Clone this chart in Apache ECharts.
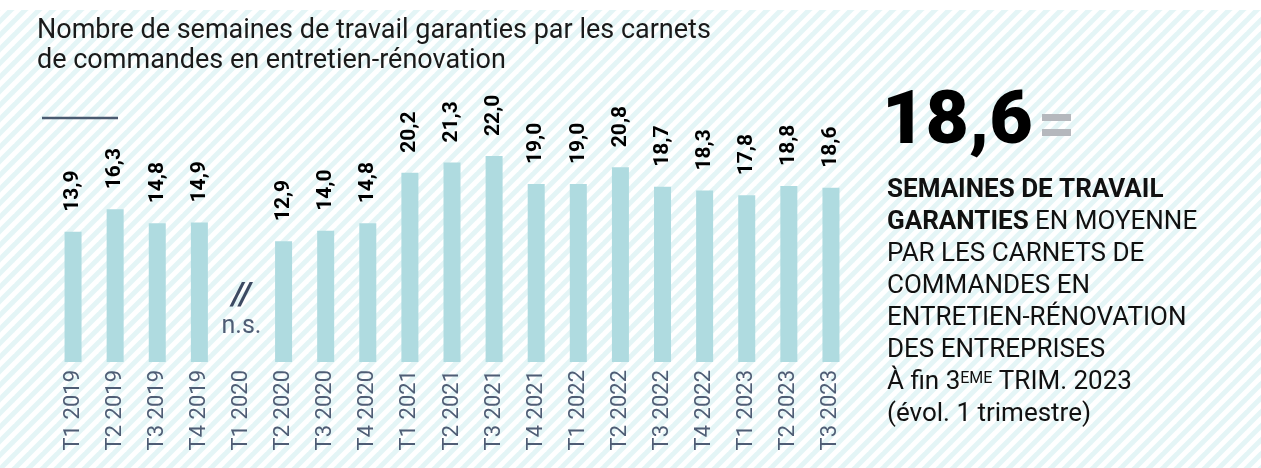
<!DOCTYPE html>
<html>
<head>
<meta charset="utf-8">
<script src="https://cdn.jsdelivr.net/npm/echarts@6/dist/echarts.min.js"></script>
<style>
  html, body { margin: 0; padding: 0; background: #fff; }
  #chart { width: 1261px; height: 468px; }
</style>
</head>
<body>
<div id="chart"></div>
<script>
var quarters = ['T1 2019', 'T2 2019', 'T3 2019', 'T4 2019', 'T1 2020', 'T2 2020', 'T3 2020', 'T4 2020',
  'T1 2021', 'T2 2021', 'T3 2021', 'T4 2021', 'T1 2022', 'T2 2022', 'T3 2022', 'T4 2022',
  'T1 2023', 'T2 2023', 'T3 2023'];
// T1 2020 : non significatif
var weeks = [13.9, 16.3, 14.8, 14.9, null, 12.9, 14.0, 14.8, 20.2, 21.3, 22.0, 19.0, 19.0, 20.8, 18.7, 18.3, 17.8, 18.8, 18.6];
var missingQuarter = 'T1 2020';
var missingText = 'n.s.';
var titleLines = ['Nombre de semaines de travail garanties par les carnets', 'de commandes en entretien-rénovation'];
var bigValue = '18,6';
var sideLines = [
  '{b|SEMAINES DE TRAVAIL}',
  '{b|GARANTIES}{n| EN MOYENNE}',
  '{n|PAR LES CARNETS DE}',
  '{n|COMMANDES EN}',
  '{n|ENTRETIEN-RÉNOVATION}',
  '{n|DES ENTREPRISES}',
  '{n|À fin 3}{s|EME}{n| TRIM. 2023}',
  '{n|(évol. 1 trimestre)}'
];

function fr(v) {
  return v == null ? '' : v.toFixed(1).replace('.', ',');
}

// fond hachuré
function stripes() {
  var p = 14;
  var c = document.createElement('canvas');
  c.width = p; c.height = p;
  var ctx = c.getContext('2d');
  ctx.fillStyle = '#e4f5f6';
  ctx.fillRect(0, 0, p, p);
  ctx.strokeStyle = '#ffffff';
  ctx.lineWidth = p / Math.SQRT2 / 2;
  for (var k = 0; k <= 2; k++) {
    ctx.beginPath();
    ctx.moveTo(k * p - 2 * p, 2 * p);
    ctx.lineTo(k * p + 2 * p, -2 * p);
    ctx.stroke();
  }
  return c;
}

var font = 'Roboto';
var chart = echarts.init(document.getElementById('chart'));

var option = {
  animation: false,
  grid: { left: 52, right: 409, top: 81, bottom: 106 },
  xAxis: {
    type: 'category',
    data: quarters,
    axisLine: { show: false },
    axisTick: { show: false },
    axisLabel: {
      rotate: 90,
      margin: 8,
      color: '#4f5d75',
      fontFamily: font,
      fontSize: 22,
      interval: 0
    }
  },
  yAxis: {
    type: 'value',
    min: 0,
    max: 30,
    show: false
  },
  series: [{
    type: 'bar',
    data: weeks,
    barWidth: 17,
    itemStyle: { color: '#afdbe0' },
    label: {
      show: true,
      position: 'top',
      rotate: 90,
      align: 'left',
      verticalAlign: 'middle',
      distance: 20,
      color: '#000',
      fontFamily: font,
      fontWeight: 'bold',
      fontSize: 21,
      formatter: function (p) { return fr(p.value); }
    }
  }]
};
chart.setOption(option);

var nsX = chart.convertToPixel({ xAxisIndex: 0 }, missingQuarter);

chart.setOption({
  graphic: [
    {
      type: 'rect', z: -100, silent: true,
      shape: { x: 0, y: 10, width: 1261, height: 458 },
      style: { fill: { image: stripes(), repeat: 'repeat' } }
    },
    {
      type: 'text', left: 37, top: 16,
      style: { text: titleLines.join('\n'), fontFamily: font, fontSize: 27, fill: '#1a1a1a', lineHeight: 30 }
    },
    {
      type: 'line',
      shape: { x1: 42, y1: 118, x2: 118, y2: 118 },
      style: { stroke: '#4a5a70', lineWidth: 2.5 }
    },
    {
      type: 'text', x: nsX, y: 296,
      style: { text: '//', fontFamily: font, fontStyle: 'italic', fontWeight: 'bold', fontSize: 32, fill: '#3c4a62', align: 'center', verticalAlign: 'middle' }
    },
    {
      type: 'text', x: nsX, y: 327,
      style: { text: missingText, fontFamily: font, fontSize: 25, fill: '#4f5d75', align: 'center', verticalAlign: 'middle' }
    },
    {
      type: 'text', x: 882, y: 124,
      style: { text: bigValue, fontFamily: font, fontWeight: 900, fontSize: 75, fill: '#000', verticalAlign: 'middle' }
    },
    {
      type: 'rect', shape: { x: 1042, y: 114, width: 29, height: 7 }, style: { fill: '#b5b8bd' }
    },
    {
      type: 'rect', shape: { x: 1042, y: 129, width: 29, height: 7 }, style: { fill: '#b5b8bd' }
    },
    {
      type: 'text', x: 887, y: 174,
      style: {
        text: sideLines.join('\n'),
        fill: '#111',
        rich: {
          b: { fontFamily: font, fontWeight: 'bold', fontSize: 26, lineHeight: 32, fill: '#111' },
          n: { fontFamily: font, fontSize: 26, lineHeight: 32, fill: '#111' },
          s: { fontFamily: font, fontSize: 16, lineHeight: 32, verticalAlign: 'top', padding: [5, 0, 0, 0], fill: '#111' }
        }
      }
    }
  ]
});
</script>
</body>
</html>
